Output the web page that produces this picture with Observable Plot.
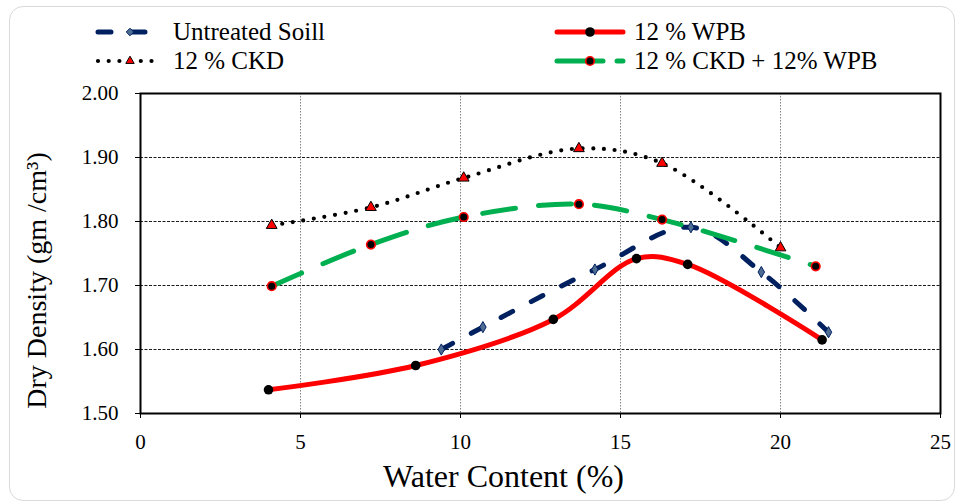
<!DOCTYPE html>
<html>
<head>
<meta charset="utf-8">
<script src="https://cdn.jsdelivr.net/npm/d3@7"></script>
<script src="https://cdn.jsdelivr.net/npm/@observablehq/plot@0.6"></script>
<style>
  body { margin: 0; background: #fff; }
  #wrap { position: relative; width: 960px; height: 503px; overflow: hidden; }
  #legend { position: relative; width: 960px; height: 78px; }
  .item { position: absolute; display: flex; align-items: center; height: 30px; font-size: 25px; color: #000; white-space: nowrap; }
  .item svg { margin-right: 8px; }
  #border { position: absolute; left: 9px; top: 6px; width: 944px; height: 493px; border: 1px solid #d9d9d9; border-radius: 14px; pointer-events: none; }
</style>
</head>
<body>
<div id="wrap">
  <div id="legend"></div>
  <div id="chart"></div>
  <div id="border"></div>
</div>
<script>
// ---- data ----
const seriesNames = ["Untreated Soill", "12 % WPB", "12 % CKD", "12 % CKD + 12% WPB"];

const untreatedX = [9.4, 10.7, 14.2, 17.2, 19.4, 21.5];
const untreatedY = [1.600, 1.635, 1.725, 1.791, 1.721, 1.627];

const wpbX = [4.0, 8.6, 12.9, 15.5, 17.1, 21.3];
const wpbY = [1.537, 1.575, 1.647, 1.742, 1.733, 1.615];

const ckdX = [4.1, 7.2, 10.1, 13.7, 16.3, 20.0];
const ckdY = [1.794, 1.822, 1.868, 1.914, 1.891, 1.759];

const mixX = [4.1, 7.2, 10.1, 13.7, 16.3, 21.1];
const mixY = [1.699, 1.764, 1.807, 1.827, 1.803, 1.730];

const xTicks = [0, 5, 10, 15, 20, 25];
const yTicks = [1.5, 1.6, 1.7, 1.8, 1.9, 2.0];
const xTitle = "Water Content (%)";
const yTitle = "Dry Density (gm /cm³)";

// ---- pick an installed serif font ----
function pickFont(cands) {
  const ctx = document.createElement("canvas").getContext("2d");
  const s = "Untreated Soill 1.90 Water Content";
  for (const c of cands) {
    for (const fb of ["monospace", "sans-serif"]) {
      ctx.font = `40px ${fb}`; const w0 = ctx.measureText(s).width;
      ctx.font = `40px "${c}", ${fb}`; const w1 = ctx.measureText(s).width;
      if (Math.abs(w1 - w0) > 0.5) return `"${c}", serif`;
    }
  }
  return "serif";
}
const font = pickFont(["Liberation Serif", "Times New Roman", "Tinos", "Nimbus Roman", "DejaVu Serif", "Noto Serif", "FreeSerif"]);
document.getElementById("wrap").style.fontFamily = font;

// ---- styles ----
const styles = [
  { stroke: "#002060", width: 5, dash: "13,21", symbol: "diamond", r: 3.4, fill: "#4f6d92", mstroke: "#002060", mwidth: 1 },
  { stroke: "#ff0000", width: 5, dash: null, symbol: "circle", r: 4.8, fill: "#000", mstroke: "#000", mwidth: 0 },
  { stroke: "#000000", width: 4.2, dash: "0,10.7", symbol: "triangle", r: 4, fill: "#ff0000", mstroke: "#000", mwidth: 1 },
  { stroke: "#00b050", width: 5, dash: "33,23", symbol: "circle", r: 4.3, fill: "#000", mstroke: "#ff0000", mwidth: 1.6 }
];
const xs = [untreatedX, wpbX, ckdX, mixX];
const ys = [untreatedY, wpbY, ckdY, mixY];
const tables = xs.map((X, i) => X.map((x, j) => ({ x, y: ys[i][j], s: seriesNames[i] })));

const marks = [
  Plot.ruleX(xTicks.filter(d => d > 0 && d < 25), { stroke: "#7f7f7f", strokeWidth: 1, strokeDasharray: "1.5,1.5" }),
  Plot.ruleY(yTicks.filter(d => d > 1.5 && d < 2.0), { stroke: "#000", strokeWidth: 0.9, strokeDasharray: "3,1.5" })
];
tables.forEach((t, i) => {
  const st = styles[i];
  marks.push(Plot.line(t, { x: "x", y: "y", curve: "catmull-rom", stroke: st.stroke, strokeWidth: st.width, strokeDasharray: st.dash, strokeLinecap: "round" }));
  marks.push(Plot.dot(t, { x: "x", y: "y", symbol: st.symbol, r: st.r, fill: st.fill, stroke: st.mstroke, strokeWidth: st.mwidth }));
});
marks.push(
  Plot.frame({ stroke: "#000", strokeWidth: 2 }),
  Plot.axisX({ ticks: xTicks, tickSize: 5, tickPadding: 16, label: null, fontSize: 21 }),
  Plot.axisY({ ticks: yTicks, tickSize: 5, tickPadding: 17, tickFormat: d3.format(".2f"), label: null, fontSize: 21 }),
  Plot.text([xTitle], { text: d => d, frameAnchor: "bottom", textAnchor: "middle", lineAnchor: "middle", dx: -37, dy: 63, fontSize: 32, fontFamily: font }),
  Plot.text([yTitle], { text: d => d, frameAnchor: "left", textAnchor: "middle", lineAnchor: "middle", dx: -103, dy: 27, rotate: -90, fontSize: 28, fontFamily: font })
);

const chart = Plot.plot({
  width: 960,
  height: 425,
  marginTop: 15,
  marginBottom: 90,
  marginLeft: 140,
  marginRight: 20,
  x: { domain: [0, 25] },
  y: { domain: [1.5, 2.0] },
  style: { fontFamily: font, fontSize: "21px", color: "#000", background: "transparent", overflow: "visible" },
  marks
});
document.getElementById("chart").appendChild(chart);

// ---- legend ----
const legendPos = [[95, 17], [554, 17], [95, 46], [554, 46]];
const legendW = [70, 72, 70, 72];
const ns = "http://www.w3.org/2000/svg";
seriesNames.forEach((name, i) => {
  const st = styles[i];
  const div = document.createElement("div");
  div.className = "item";
  div.style.left = legendPos[i][0] + "px";
  div.style.top = legendPos[i][1] + "px";
  const w = legendW[i];
  const svg = document.createElementNS(ns, "svg");
  svg.setAttribute("width", w);
  svg.setAttribute("height", 20);
  const ln = document.createElementNS(ns, "line");
  ln.setAttribute("x1", 3); ln.setAttribute("x2", w - 3);
  ln.setAttribute("y1", 10); ln.setAttribute("y2", 10);
  ln.setAttribute("stroke", st.stroke);
  ln.setAttribute("stroke-width", st.width);
  ln.setAttribute("stroke-linecap", "round");
  if (st.dash) ln.setAttribute("stroke-dasharray", i === 0 ? "13,21" : i === 3 ? "46,14" : st.dash);
  svg.appendChild(ln);
  const sym = { circle: d3.symbolCircle, diamond: d3.symbolDiamond2, triangle: d3.symbolTriangle2 }[st.symbol];
  const p = document.createElementNS(ns, "path");
  p.setAttribute("d", d3.symbol(sym, Math.PI * st.r * st.r)());
  p.setAttribute("transform", `translate(${w / 2},10)`);
  p.setAttribute("fill", st.fill);
  p.setAttribute("stroke", st.mstroke);
  p.setAttribute("stroke-width", st.mwidth);
  svg.appendChild(p);
  div.appendChild(svg);
  const span = document.createElement("span");
  span.textContent = name;
  div.appendChild(span);
  document.getElementById("legend").appendChild(div);
});
</script>
</body>
</html>
